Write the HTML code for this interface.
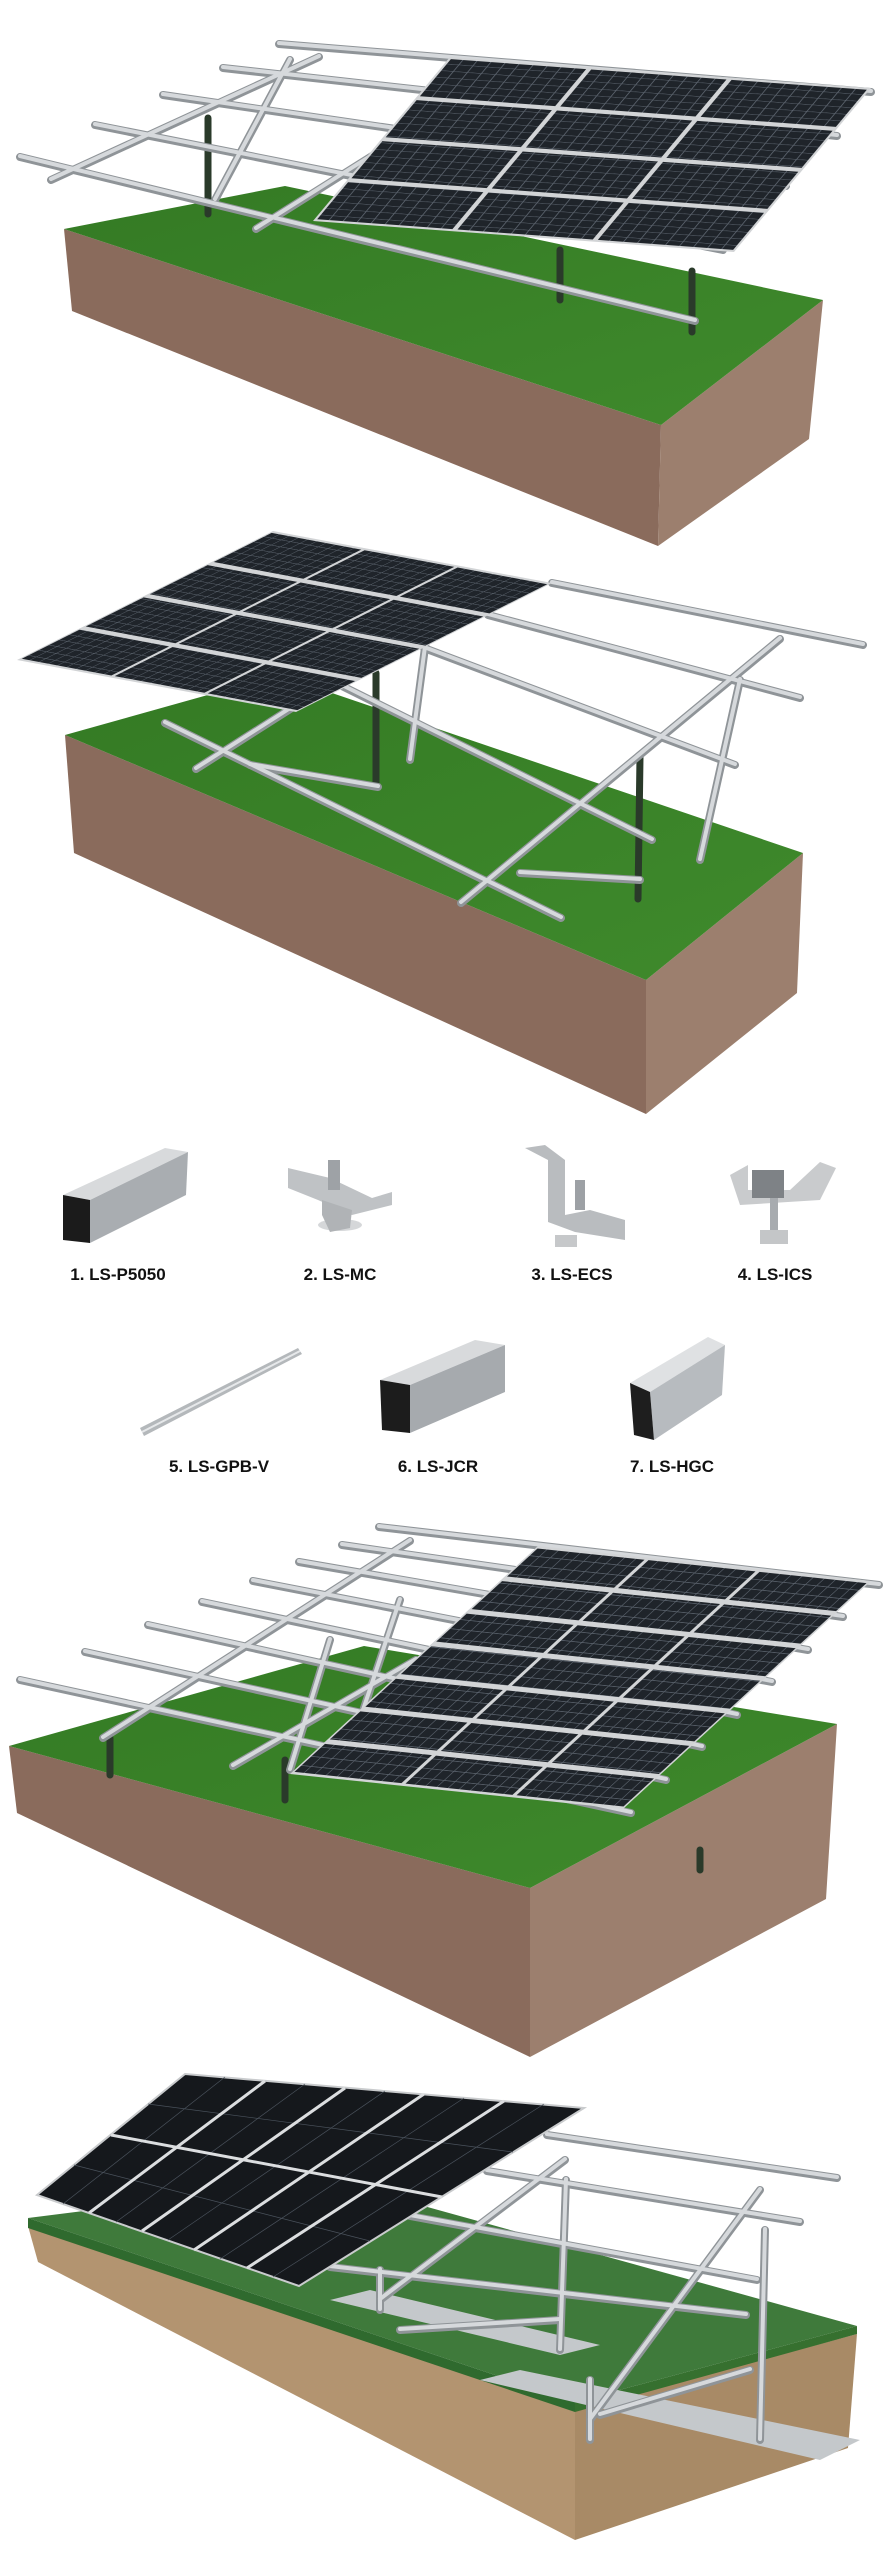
<!DOCTYPE html>
<html><head><meta charset="utf-8"><style>
html,body{margin:0;padding:0;background:#fff;}
svg{display:block}
.lbl{font-family:"Liberation Sans",Arial,sans-serif;font-weight:bold;font-size:17px;fill:#111;text-anchor:middle}
</style></head><body>
<svg width="893" height="2560" viewBox="0 0 893 2560" xmlns="http://www.w3.org/2000/svg" xmlns:xlink="http://www.w3.org/1999/xlink">
<defs>
<linearGradient id="gr1" x1="0" y1="0" x2="1" y2="1"><stop offset="0" stop-color="#347a24"/><stop offset="1" stop-color="#3f8a2c"/></linearGradient>
<pattern id="cp" patternUnits="userSpaceOnUse" width="0.0333" height="0.04">
<rect width="0.0333" height="0.04" fill="#1f242a"/>
<rect width="0.0025" height="0.04" fill="#5a626c"/>
<rect width="0.0333" height="0.003" fill="#5a626c"/>
</pattern>
<g id="grid43">
<rect x="0" y="0" width="1" height="1" fill="#d2d4d6"/>
<g fill="url(#cp)">
<rect x="0.006" y="0.012" width="0.3213" height="0.226"/><rect x="0.3393" y="0.012" width="0.3213" height="0.226"/><rect x="0.6727" y="0.012" width="0.3213" height="0.226"/>
<rect x="0.006" y="0.262" width="0.3213" height="0.226"/><rect x="0.3393" y="0.262" width="0.3213" height="0.226"/><rect x="0.6727" y="0.262" width="0.3213" height="0.226"/>
<rect x="0.006" y="0.512" width="0.3213" height="0.226"/><rect x="0.3393" y="0.512" width="0.3213" height="0.226"/><rect x="0.6727" y="0.512" width="0.3213" height="0.226"/>
<rect x="0.006" y="0.762" width="0.3213" height="0.226"/><rect x="0.3393" y="0.762" width="0.3213" height="0.226"/><rect x="0.6727" y="0.762" width="0.3213" height="0.226"/>
</g></g>
<g id="grid73">
<rect x="0" y="0" width="1" height="1" fill="#d2d4d6"/>
<g fill="url(#cp)">
<rect x="0.006" y="0.010" width="0.3213" height="0.1229"/><rect x="0.3393" y="0.010" width="0.3213" height="0.1229"/><rect x="0.6727" y="0.010" width="0.3213" height="0.1229"/>
<rect x="0.006" y="0.1529" width="0.3213" height="0.1229"/><rect x="0.3393" y="0.1529" width="0.3213" height="0.1229"/><rect x="0.6727" y="0.1529" width="0.3213" height="0.1229"/>
<rect x="0.006" y="0.2957" width="0.3213" height="0.1229"/><rect x="0.3393" y="0.2957" width="0.3213" height="0.1229"/><rect x="0.6727" y="0.2957" width="0.3213" height="0.1229"/>
<rect x="0.006" y="0.4386" width="0.3213" height="0.1229"/><rect x="0.3393" y="0.4386" width="0.3213" height="0.1229"/><rect x="0.6727" y="0.4386" width="0.3213" height="0.1229"/>
<rect x="0.006" y="0.5814" width="0.3213" height="0.1229"/><rect x="0.3393" y="0.5814" width="0.3213" height="0.1229"/><rect x="0.6727" y="0.5814" width="0.3213" height="0.1229"/>
<rect x="0.006" y="0.7243" width="0.3213" height="0.1229"/><rect x="0.3393" y="0.7243" width="0.3213" height="0.1229"/><rect x="0.6727" y="0.7243" width="0.3213" height="0.1229"/>
<rect x="0.006" y="0.8671" width="0.3213" height="0.1229"/><rect x="0.3393" y="0.8671" width="0.3213" height="0.1229"/><rect x="0.6727" y="0.8671" width="0.3213" height="0.1229"/>
</g></g>
<g id="m1">
<line x1="279" y1="44" x2="871" y2="92"/><line x1="223" y1="68" x2="837" y2="136"/><line x1="163" y1="95" x2="786" y2="186"/><line x1="95" y1="125" x2="723" y2="250"/><line x1="20" y1="157" x2="695" y2="321"/>
<line x1="319" y1="57" x2="51" y2="180"/><line x1="399" y1="139" x2="256" y2="229"/><line x1="290" y1="60" x2="215" y2="200"/>
</g>
<g id="m2">
<line x1="364" y1="662" x2="196" y2="769"/><line x1="780" y1="639" x2="461" y2="903"/><line x1="250" y1="765" x2="378" y2="787"/><line x1="520" y1="873" x2="640" y2="880"/><line x1="430" y1="610" x2="410" y2="760"/><line x1="740" y1="680" x2="700" y2="860"/>
<line x1="552" y1="583" x2="863" y2="645"/><line x1="488" y1="615" x2="800" y2="698"/><line x1="424" y1="648" x2="735" y2="765"/><line x1="340" y1="685" x2="652" y2="840"/><line x1="165" y1="723" x2="561" y2="918"/>
</g>
<g id="m3">
<line x1="410" y1="1541" x2="103" y2="1738"/><line x1="416" y1="1660" x2="233" y2="1766"/><line x1="330" y1="1640" x2="290" y2="1770"/><line x1="400" y1="1600" x2="360" y2="1720"/>
<line x1="379" y1="1527" x2="879" y2="1585"/><line x1="342" y1="1545" x2="843" y2="1617"/><line x1="299" y1="1562" x2="808" y2="1650"/><line x1="253" y1="1581" x2="772" y2="1682"/><line x1="202" y1="1602" x2="737" y2="1715"/><line x1="148" y1="1625" x2="702" y2="1747"/><line x1="85" y1="1652" x2="666" y2="1780"/><line x1="20" y1="1680" x2="631" y2="1813"/>
</g>
<g id="m4">
<line x1="547" y1="2135" x2="837" y2="2178"/><line x1="487" y1="2171" x2="800" y2="2222"/><line x1="410" y1="2216" x2="757" y2="2280"/><line x1="330" y1="2267" x2="746" y2="2315"/>
<line x1="566" y1="2180" x2="560" y2="2350"/><line x1="765" y1="2230" x2="760" y2="2440"/><line x1="760" y1="2190" x2="590" y2="2420"/><line x1="565" y1="2160" x2="380" y2="2300"/>
<line x1="400" y1="2330" x2="560" y2="2320"/><line x1="600" y1="2415" x2="750" y2="2370"/><line x1="380" y1="2270" x2="380" y2="2310"/><line x1="590" y1="2380" x2="590" y2="2440"/>
</g>
</defs>

<!-- SCENE 1 -->
<polygon points="64,229 661,425 658,546 72,311" fill="#8a6b5c"/>
<polygon points="661,425 823,300 809,439 658,546" fill="#9c7f6e"/>
<polygon points="64,229 285,186 823,300 661,425" fill="url(#gr1)"/>
<!-- SCENE 2 -->
<polygon points="65,735 646,980 646,1114 74,853" fill="#8a6b5c"/>
<polygon points="646,980 803,853 797,993 646,1114" fill="#9c7f6e"/>
<polygon points="65,735 279,675 803,853 646,980" fill="url(#gr1)"/>
<!-- SCENE 3 -->
<polygon points="9,1746 530,1888 530,2057 17,1813" fill="#8a6b5c"/>
<polygon points="530,1888 837,1724 826,1899 530,2057" fill="#9c7f6e"/>
<polygon points="9,1746 364,1646 837,1724 530,1888" fill="url(#gr1)"/>
<!-- SCENE 4 -->
<polygon points="28,2226 575,2410 575,2540 38,2262" fill="#b39470"/>
<polygon points="575,2410 857,2334 848,2448 575,2540" fill="#a88a66"/>
<polygon points="28,2218 330,2180 857,2326 575,2402" fill="#3f7a3b"/>
<polygon points="28,2218 575,2402 575,2412 28,2228" fill="#2f6a2e"/>
<polygon points="575,2402 857,2326 857,2334 575,2412" fill="#36702f"/>
<polygon points="330,2300 560,2355 600,2345 370,2290" fill="#c4c8cb"/>
<polygon points="480,2380 820,2460 860,2440 520,2370" fill="#c4c8cb"/>

<!-- posts -->
<g stroke="#2a3a2a" stroke-width="7" stroke-linecap="round">
<line x1="208" y1="118" x2="208" y2="214"/><line x1="692" y1="271" x2="692" y2="332"/><line x1="560" y1="250" x2="560" y2="300"/>
<line x1="376" y1="673" x2="376" y2="784"/><line x1="640" y1="757" x2="638" y2="899"/>
<line x1="110" y1="1738" x2="110" y2="1775"/><line x1="285" y1="1760" x2="285" y2="1800"/><line x1="700" y1="1850" x2="700" y2="1870"/>
</g>
<!-- metal -->
<g stroke-linecap="round">
<use xlink:href="#m1" href="#m1" stroke="#8f9498" stroke-width="8"/>
<use xlink:href="#m1" href="#m1" stroke="#d6d9dc" stroke-width="4" transform="translate(0,-1)"/>
<use xlink:href="#m2" href="#m2" stroke="#8f9498" stroke-width="8"/>
<use xlink:href="#m2" href="#m2" stroke="#d6d9dc" stroke-width="4" transform="translate(0,-1)"/>
<use xlink:href="#m3" href="#m3" stroke="#8f9498" stroke-width="8"/>
<use xlink:href="#m3" href="#m3" stroke="#d6d9dc" stroke-width="4" transform="translate(0,-1)"/>
<use xlink:href="#m4" href="#m4" stroke="#8f9498" stroke-width="8"/>
<use xlink:href="#m4" href="#m4" stroke="#d6d9dc" stroke-width="4" transform="translate(0,-1)"/>
</g>

<!-- panels -->
<use xlink:href="#grid43" href="#grid43" transform="matrix(421,31,-137,164,450,57)"/>
<use xlink:href="#grid43" href="#grid43" transform="matrix(279,52,-256,129,273,531)"/>
<use xlink:href="#grid73" href="#grid73" transform="matrix(333,35,-248,228,538,1546)"/>

<!-- scene 4 panels -->
<polygon points="185,2074 584,2108 299,2286 37,2195" fill="#15181c" stroke="#c9cbcd" stroke-width="2"/>
<g stroke="#4a525c" stroke-width="0.7">
<line x1="225" y1="2077" x2="63" y2="2204"/><line x1="305" y1="2084" x2="116" y2="2222"/><line x1="385" y1="2091" x2="168" y2="2240"/><line x1="464" y1="2098" x2="220" y2="2259"/><line x1="544" y1="2104" x2="273" y2="2277"/>
<line x1="148" y1="2104" x2="513" y2="2152"/><line x1="74" y1="2165" x2="370" y2="2241"/>
</g>
<g stroke="#dcdee0" stroke-width="3">
<line x1="265" y1="2081" x2="89" y2="2213"/><line x1="345" y1="2088" x2="142" y2="2231"/><line x1="424" y1="2094" x2="194" y2="2250"/><line x1="504" y1="2101" x2="247" y2="2268"/>
<line x1="111" y1="2135" x2="442" y2="2197"/>
</g>

<!-- PARTS -->
<g>
<polygon points="63,1195 165,1148 188,1152 90,1200" fill="#d8dadc"/>
<polygon points="90,1200 188,1152 186,1195 90,1243" fill="#a9adb1"/>
<polygon points="63,1195 90,1200 90,1243 63,1240" fill="#1b1b1b"/>
<polygon points="288,1168 330,1178 372,1198 392,1192 392,1205 352,1215 318,1200 288,1188" fill="#bfc2c5"/>
<rect x="328" y="1160" width="12" height="30" fill="#9ea2a6"/>
<ellipse cx="340" cy="1225" rx="22" ry="6" fill="#d5d7d9"/>
<polygon points="322,1200 352,1210 350,1228 330,1232 322,1215" fill="#b0b3b6"/>
<polygon points="525,1148 545,1145 565,1160 565,1215 590,1210 625,1220 625,1240 575,1232 548,1222 548,1160" fill="#b9bcbf"/>
<rect x="555" y="1235" width="22" height="12" fill="#c6c8ca"/>
<rect x="575" y="1180" width="10" height="30" fill="#9da1a5"/>
<polygon points="730,1175 748,1165 748,1190 790,1190 820,1162 836,1168 820,1200 740,1205" fill="#c9cbcd"/>
<rect x="752" y="1170" width="32" height="28" fill="#7e8286"/>
<rect x="770" y="1198" width="8" height="35" fill="#a7abaf"/>
<rect x="760" y="1230" width="28" height="14" fill="#c4c6c8"/>
<polygon points="140,1428 298,1348 302,1354 144,1436" fill="#b4b8bb"/>
<line x1="142" y1="1432" x2="300" y2="1351" stroke="#e6e8ea" stroke-width="2"/>
<polygon points="380,1380 475,1340 505,1345 410,1385" fill="#d8dadc"/>
<polygon points="410,1385 505,1345 505,1392 410,1433" fill="#a6aaae"/>
<polygon points="380,1380 410,1385 410,1433 382,1430" fill="#1c1c1c"/>
<polygon points="630,1383 708,1337 725,1345 650,1392" fill="#dfe1e3"/>
<polygon points="650,1392 725,1345 722,1395 654,1440" fill="#b7bbbf"/>
<polygon points="630,1383 650,1392 654,1440 634,1435" fill="#1e1e1e"/>
<text class="lbl" x="118" y="1280">1. LS-P5050</text>
<text class="lbl" x="340" y="1280">2. LS-MC</text>
<text class="lbl" x="572" y="1280">3. LS-ECS</text>
<text class="lbl" x="775" y="1280">4. LS-ICS</text>
<text class="lbl" x="219" y="1472">5. LS-GPB-V</text>
<text class="lbl" x="438" y="1472">6. LS-JCR</text>
<text class="lbl" x="672" y="1472">7. LS-HGC</text>
</g>
</svg>
</body></html>
